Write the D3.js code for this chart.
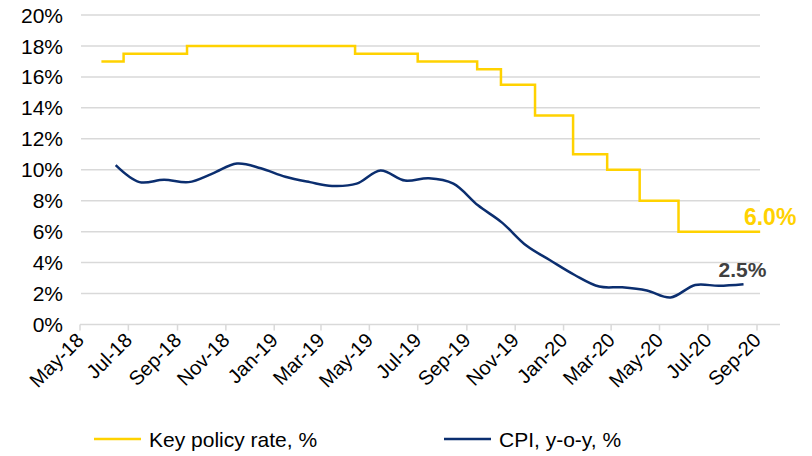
<!DOCTYPE html>
<html>
<head>
<meta charset="utf-8">
<script src="https://cdn.jsdelivr.net/npm/d3@7"></script>
<style>
  html, body { margin: 0; padding: 0; background: #fff; }
  svg { display: block; font-family: "Liberation Sans", Arial, sans-serif; }
</style>
</head>
<body>
<svg id="chart" width="812" height="456"></svg>
<script>
// ---- Data ----
const yTicks = [0, 2, 4, 6, 8, 10, 12, 14, 16, 18, 20];
const xTickLabels = ["May-18","Jul-18","Sep-18","Nov-18","Jan-19","Mar-19","May-19","Jul-19","Sep-19","Nov-19","Jan-20","Mar-20","May-20","Jul-20","Sep-20"];
const xTickDates = ["2018-05-01","2018-07-01","2018-09-01","2018-11-01","2019-01-01","2019-03-01","2019-05-01","2019-07-01","2019-09-01","2019-11-01","2020-01-01","2020-03-01","2020-05-01","2020-07-01","2020-09-01"];

// Key policy rate: date of change and new level (step line)
const rateDates = ["2018-05-28","2018-06-25","2018-09-13","2019-04-13","2019-07-01","2019-09-14","2019-10-14","2019-11-26","2020-01-13","2020-02-25","2020-04-06","2020-05-25","2020-09-05"];
const rateValues = [17, 17.5, 18, 17.5, 17, 16.5, 15.5, 13.5, 11, 10, 8, 6, 6];

// CPI, y-o-y, monthly
const cpiDates = ["2018-06-15","2018-07-15","2018-08-15","2018-09-15","2018-10-15","2018-11-15","2018-12-15",
  "2019-01-15","2019-02-15","2019-03-15","2019-04-15","2019-05-15","2019-06-15","2019-07-15","2019-08-15","2019-09-15","2019-10-15","2019-11-15","2019-12-15",
  "2020-01-15","2020-02-15","2020-03-15","2020-04-15","2020-05-15","2020-06-15","2020-07-15","2020-08-15"];
const cpiValues = [10.3, 9.2, 9.35, 9.2, 9.75, 10.4, 10.1,
  9.55, 9.2, 8.95, 9.1, 9.95, 9.3, 9.45, 9.1, 7.7, 6.6, 5.1, 4.15,
  3.2, 2.45, 2.4, 2.2, 1.75, 2.55, 2.5, 2.6];

const seriesNames = ["Key policy rate, %", "CPI, y-o-y, %"];
const endLabels = ["6.0%", "2.5%"];

// ---- Styles ----
const YELLOW = "#FFD200";
const NAVY = "#0B2E6F";
const GRID = "#D9D9D9";

const parse = d3.timeParse("%Y-%m-%d");
const svg = d3.select("#chart");

const x = d3.scaleTime()
  .domain([parse("2018-05-01"), parse("2020-09-01")])
  .range([80, 757]);
const y = d3.scaleLinear().domain([0, 20]).range([324.5, 15]);

const plotRight = 760;

// Gridlines
svg.append("g").selectAll("line")
  .data(yTicks.filter(d => d > 0))
  .join("line")
  .attr("x1", 81).attr("x2", plotRight)
  .attr("y1", d => y(d)).attr("y2", d => y(d))
  .attr("stroke", GRID).attr("stroke-width", 1.5);

// Y labels
svg.append("g").selectAll("text")
  .data(yTicks)
  .join("text")
  .attr("x", 63)
  .attr("y", d => y(d))
  .attr("dy", "0.36em")
  .attr("text-anchor", "end")
  .attr("font-size", 21)
  .attr("fill", "#000")
  .text(d => d + "%");

// X axis line
svg.append("line")
  .attr("x1", 80).attr("x2", 780)
  .attr("y1", y(0)).attr("y2", y(0))
  .attr("stroke", GRID).attr("stroke-width", 1.5);

const xt = xTickDates.map(parse);
svg.append("g").selectAll("line")
  .data(xt)
  .join("line")
  .attr("x1", d => x(d)).attr("x2", d => x(d))
  .attr("y1", y(0)).attr("y2", y(0) + 6)
  .attr("stroke", GRID).attr("stroke-width", 1.5);

svg.append("g").selectAll("text")
  .data(xt)
  .join("text")
  .attr("transform", d => `translate(${x(d) + 5},${y(0) + 17}) rotate(-45)`)
  .attr("text-anchor", "end")
  .attr("font-size", 20)
  .attr("fill", "#000")
  .text((d, i) => xTickLabels[i]);

// Key policy rate step line
const rateData = rateDates.map((d, i) => ({ date: parse(d), v: rateValues[i] }));
svg.append("path")
  .datum(rateData)
  .attr("fill", "none")
  .attr("stroke", YELLOW)
  .attr("stroke-width", 2.5)
  .attr("d", d3.line().x(d => x(d.date)).y(d => y(d.v)).curve(d3.curveStepAfter));

// CPI smoothed line
const cpiData = cpiDates.map((d, i) => ({ date: parse(d), v: cpiValues[i] }));
svg.append("path")
  .datum(cpiData)
  .attr("fill", "none")
  .attr("stroke", NAVY)
  .attr("stroke-width", 2.5)
  .attr("d", d3.line().x(d => x(d.date)).y(d => y(d.v)).curve(d3.curveCatmullRom.alpha(0.5)));

// End labels
const lastRate = rateData[rateData.length - 1];
svg.append("text")
  .attr("x", x(lastRate.date) + 10)
  .attr("y", y(lastRate.v) - 7)
  .attr("text-anchor", "middle")
  .attr("font-size", 23).attr("font-weight", "bold")
  .attr("fill", YELLOW)
  .text(endLabels[0]);

const lastCpi = cpiData[cpiData.length - 1];
svg.append("text")
  .attr("x", x(lastCpi.date) - 1)
  .attr("y", y(lastCpi.v) - 7)
  .attr("text-anchor", "middle")
  .attr("font-size", 21).attr("font-weight", "bold")
  .attr("fill", "#404040")
  .text(endLabels[1]);

// Legend
const legend = [
  { name: seriesNames[0], color: YELLOW, x: 94 },
  { name: seriesNames[1], color: NAVY, x: 444 }
];
const lg = svg.append("g").selectAll("g").data(legend).join("g")
  .attr("transform", d => `translate(${d.x},439)`);
lg.append("line").attr("x1", 0).attr("x2", 47).attr("y1", 0).attr("y2", 0)
  .attr("stroke", d => d.color).attr("stroke-width", 2.5);
lg.append("text").attr("x", 55).attr("y", 0).attr("dy", "0.36em")
  .attr("font-size", 21).attr("fill", "#000")
  .text(d => d.name);
</script>
</body>
</html>
